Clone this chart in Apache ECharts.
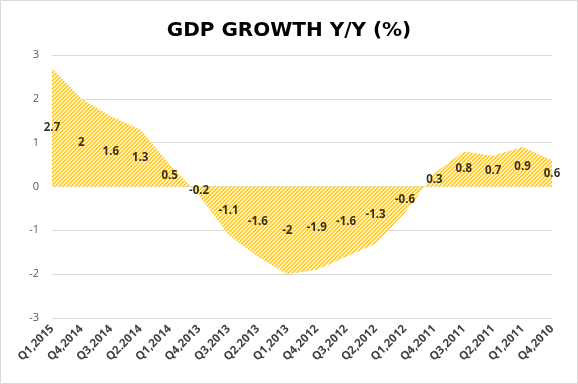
<!DOCTYPE html>
<html><head><meta charset="utf-8">
<script src="https://cdn.jsdelivr.net/npm/echarts@6/dist/echarts.min.js"></script>
<style>html,body{margin:0;padding:0;background:#fff}#c{width:578px;height:384px}</style>
</head><body><div id="c"></div>
<script>
const categories = ['Q1,2015','Q4,2014','Q3,2014','Q2.2014','Q1,2014','Q4,2013','Q3,2013','Q2.2013','Q1,2013','Q4,2012','Q3,2012','Q2,2012','Q1,2012','Q4,2011','Q3,2011','Q2,2011','Q1,2011','Q4,2010'];
const growth = [2.7, 2, 1.6, 1.3, 0.5, -0.2, -1.1, -1.6, -2, -1.9, -1.6, -1.3, -0.6, 0.3, 0.8, 0.7, 0.9, 0.6];
const titleText = 'GDP GROWTH Y/Y (%)';

// hatch pattern
const pc = document.createElement('canvas');
pc.width = 8; pc.height = 8;
const pctx = pc.getContext('2d');
const img = pctx.createImageData(8, 8);
for (let y = 0; y < 8; y++) for (let x = 0; x < 8; x++) {
  const k = (x + y) % 4;
  const i = (y * 8 + x) * 4;
  let c;
  if (k === 0) c = [250, 196, 30];
  else if (k === 1) c = [253, 212, 90];
  else c = [255, 242, 196];
  img.data[i] = c[0]; img.data[i+1] = c[1]; img.data[i+2] = c[2]; img.data[i+3] = 255;
}
pctx.putImageData(img, 0, 0);

const chart = echarts.init(document.getElementById('c'), null, {renderer: 'canvas'});
chart.setOption({
  animation: false,
  backgroundColor: '#fff',
  graphic: [{type: 'rect', shape: {x: 0.5, y: 0.5, width: 577, height: 383}, style: {fill: 'none', stroke: '#D9D9D9', lineWidth: 1}, silent: true}],
  title: {text: titleText, left: 'center', top: 16, textStyle: {fontFamily: 'DejaVu Sans', fontWeight: 'bold', fontSize: 20, color: '#000'}},
  grid: {left: 52, right: 26, top: 55, bottom: 66, containLabel: false},
  xAxis: {
    type: 'category', data: categories, boundaryGap: false,
    axisLine: {show: false}, axisTick: {show: false}, splitLine: {show: false},
    axisLabel: {rotate: 45, interval: 0, margin: 9, fontFamily: 'Open Sans', fontWeight: 'bold', fontSize: 11.5, color: '#404040'}
  },
  yAxis: {
    type: 'value', min: -3, max: 3, interval: 1,
    axisLine: {show: false}, axisTick: {show: false},
    splitLine: {lineStyle: {color: '#D9D9D9', width: 1}},
    axisLabel: {margin: 13, fontFamily: 'Open Sans', fontSize: 11, color: '#595959'}
  },
  series: [
    {type: 'line', data: growth, symbol: 'none', lineStyle: {width: 0},
     areaStyle: {color: {image: pc, repeat: 'repeat'}, opacity: 1, origin: 0}, z: 2},
    {type: 'scatter', data: growth.map((v, i) => [i, v / 2, v]), symbolSize: 0, z: 5,
     label: {show: true, position: 'inside', formatter: p => String(p.data[2]), fontFamily: 'Open Sans', fontWeight: 'bold', fontSize: 11.5, color: '#000'}}
  ]
});
</script></body></html>
